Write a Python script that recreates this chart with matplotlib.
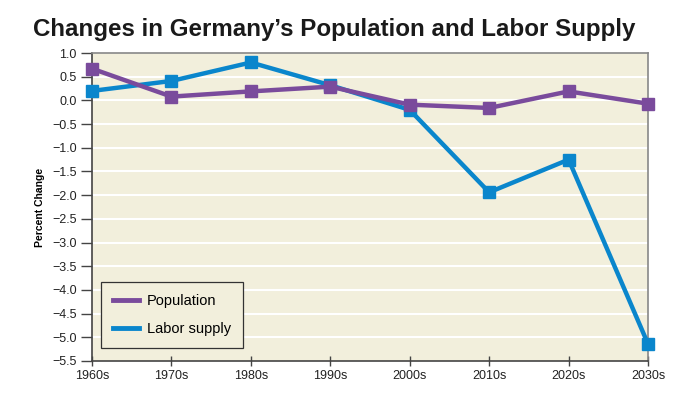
import matplotlib
matplotlib.use("Agg")
import matplotlib.pyplot as plt
import numpy as np

decades = ["1960s", "1970s", "1980s", "1990s", "2000s", "2010s", "2020s", "2030s"]
population = [0.67, 0.08, 0.19, 0.29, -0.09, -0.16, 0.19, -0.07]
labor_supply = [0.20, 0.41, 0.80, 0.32, -0.20, -1.94, -1.25, -5.14]
y_ticks = np.arange(-5.5, 1.01, 0.5)

purple = "#7A4B9C"
blue = "#0A86CC"
bg = "#F2EFDC"

plt.rcParams['font.family'] = ['Liberation Sans', 'DejaVu Sans']
fig = plt.figure(figsize=(6.88, 3.95), dpi=100)
ax = fig.add_axes([0.1337, 0.0861, 0.8082, 0.7797])
ax.set_facecolor(bg)

x = np.arange(len(decades))
ax.plot(x, population, color=purple, lw=3.2, marker="s", ms=9, label="Population", zorder=4)
ax.plot(x, labor_supply, color=blue, lw=3.2, marker="s", ms=9, label="Labor supply", zorder=3)

ax.set_xlim(0, len(decades) - 1)
ax.set_ylim(-5.5, 1.0)
ax.set_yticks(y_ticks)
ax.set_yticklabels([f"{v:.1f}".replace("-", "\u2212") for v in y_ticks], fontsize=9, color="#222222")
ax.set_xticks(x)
ax.set_xticklabels(decades, fontsize=9, color="#222222")
ax.tick_params(axis="y", length=8, width=1, color="#444444", pad=3)
ax.tick_params(axis="x", length=7, width=1, color="#444444", pad=3, direction="inout")

for v in y_ticks:
    if -5.5 < v < 1.0:
        ax.axhline(v, color="white", lw=1.5, zorder=1)

for s in ["top", "right"]:
    ax.spines[s].set_color("#888888")
    ax.spines[s].set_linewidth(1.2)
for s in ["left", "bottom"]:
    ax.spines[s].set_color("#444444")
    ax.spines[s].set_linewidth(1.2)

for line in ax.get_lines():
    line.set_clip_on(False)

ax.set_ylabel("Percent Change", fontsize=7.5, fontweight="bold", labelpad=5)

leg = ax.legend(loc="lower left", bbox_to_anchor=(0.016, 0.042), borderaxespad=0,
                fontsize=10.5, frameon=True, fancybox=False, facecolor=bg, edgecolor="#333333",
                handlelength=1.8, handletextpad=0.55, borderpad=0.8, labelspacing=1.0,
                framealpha=1)
leg.get_frame().set_linewidth(0.9)
for h in leg.legend_handles:
    h.set_marker("")
    h.set_linewidth(3.5)

fig.text(0.048, 0.955, "Changes in Germany\u2019s Population and Labor Supply",
         fontsize=17.4, fontweight="bold", family=["Liberation Sans", "DejaVu Sans"],
         color="#1a1a1a", va="top", ha="left")

fig.savefig("out.png", dpi=100, facecolor="white")
